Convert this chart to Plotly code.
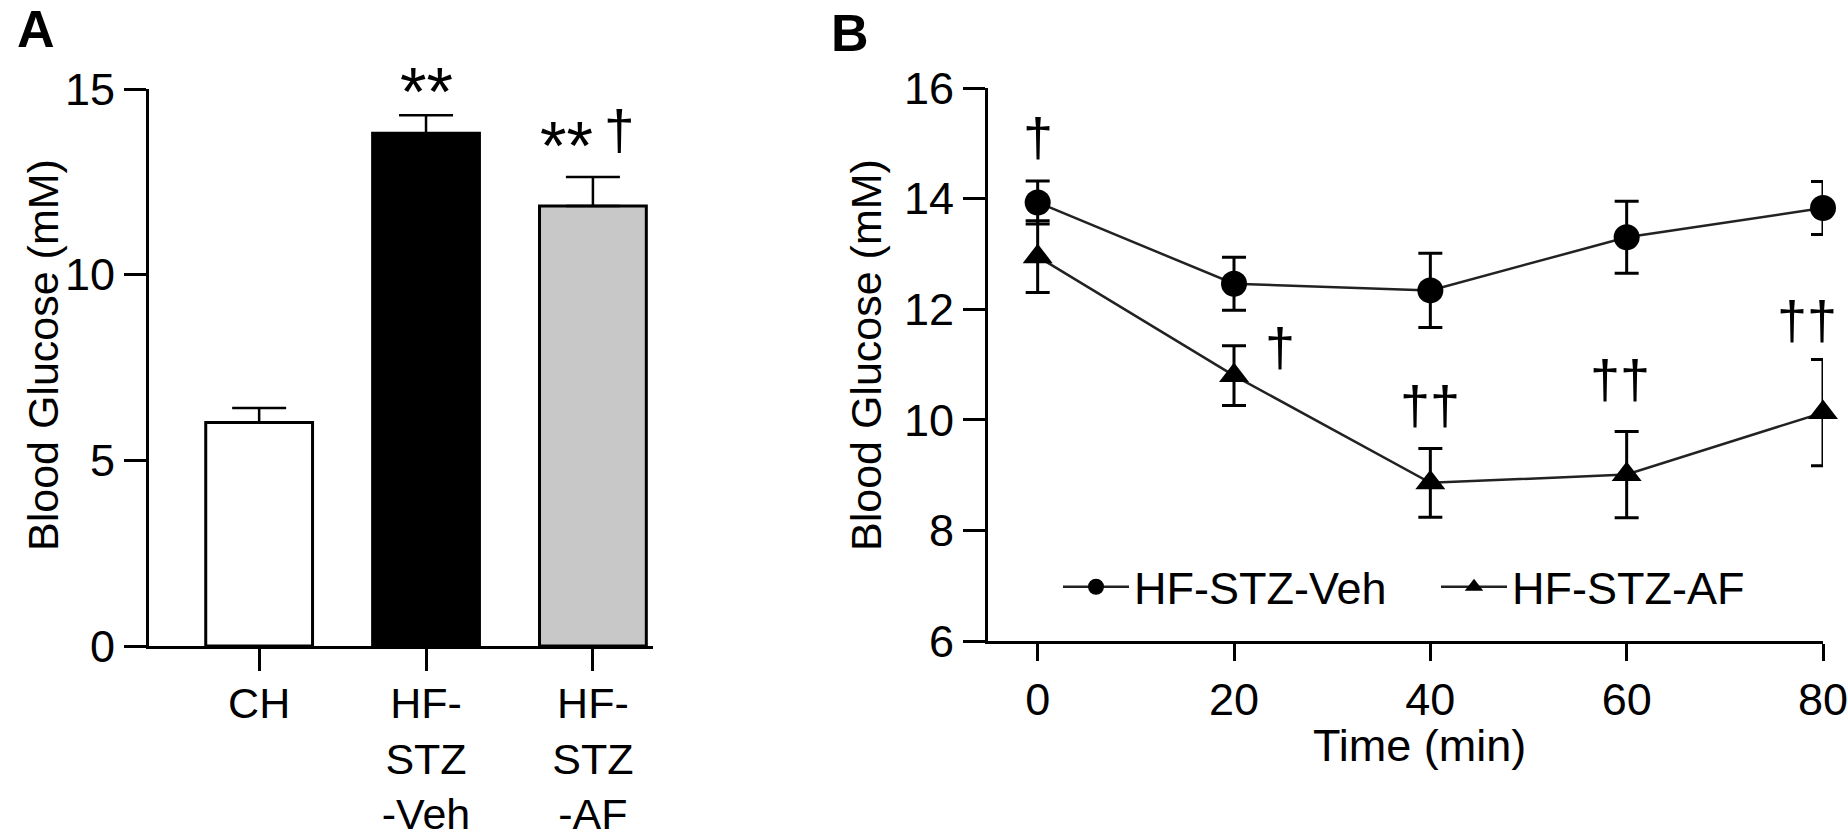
import plotly.graph_objects as go

# --- panel A: bar chart ---
groups = ["CH", "HF-<br>STZ<br>-Veh", "HF-<br>STZ<br>-AF"]
bar_mean = [6.02, 13.81, 11.85]
bar_sem = [0.39, 0.48, 0.78]
bar_colors = ["white", "black", "#c8c8c8"]
star_txt = ["", "**", "**"]
dag_a_txt = ["", "", "†"]

# --- panel B: time course ---
time_min = [0, 20, 40, 60, 80]
veh_mean = [13.93, 12.46, 12.34, 13.30, 13.83]
veh_sem = [0.39, 0.48, 0.67, 0.65, 0.48]
af_mean = [12.95, 10.80, 8.86, 9.01, 10.13]
af_sem = [0.65, 0.54, 0.62, 0.78, 0.96]
dag_x = [0, 24.7, 40, 59.3, 78.4]
dag_y = [15.04, 11.24, 10.2, 10.67, 11.73]
dag_txt = ["†", "†", "††", "††", "††"]

FONT = "Liberation Sans, Arial, sans-serif"
FS = 45

fig = go.Figure()

fig.add_trace(go.Bar(
    x=groups, y=bar_mean,
    marker=dict(color=bar_colors, line=dict(color="black", width=3)),
    width=0.64,
    error_y=dict(type="data", symmetric=False, array=bar_sem,
                 arrayminus=[0] * len(bar_sem),
                 color="black", thickness=2.5, width=27),
    showlegend=False, xaxis="x", yaxis="y",
))

fig.add_trace(go.Scatter(
    x=time_min, y=veh_mean, name="HF-STZ-Veh", mode="lines+markers",
    line=dict(color="#222", width=2.5),
    marker=dict(symbol="circle", size=26, color="black"),
    error_y=dict(type="data", array=veh_sem, color="black", thickness=3, width=12),
    cliponaxis=False, xaxis="x2", yaxis="y2",
))
fig.add_trace(go.Scatter(
    x=time_min, y=af_mean, name="HF-STZ-AF", mode="lines+markers",
    line=dict(color="#222", width=2.5),
    marker=dict(symbol="triangle-up", size=26, color="black"),
    error_y=dict(type="data", array=af_sem, color="black", thickness=3, width=12),
    cliponaxis=False, xaxis="x2", yaxis="y2",
))

axis_common = dict(
    showline=True, linecolor="black", linewidth=3,
    ticks="outside", tickcolor="black", tickwidth=3,
    showgrid=False, zeroline=False, automargin=False,
)
tick_font = dict(family=FONT, size=FS, color="black")

fig.update_layout(
    template="none",
    width=1848, height=832,
    margin=dict(l=0, r=0, t=0, b=0, pad=0),
    plot_bgcolor="white", paper_bgcolor="white",
    font=dict(family=FONT, size=FS, color="black"),
    xaxis=dict(domain=[149 / 1848, 653 / 1848], range=[-0.66, 2.36],
               ticklen=22, anchor="y", ticklabelstandoff=-5,
               tickfont=dict(family=FONT, size=43, color="black"), **axis_common),
    yaxis=dict(domain=[186 / 832, 743 / 832], range=[0, 15],
               tickvals=[0, 5, 10, 15], ticklen=22, anchor="x",
               tickfont=tick_font, **axis_common),
    xaxis2=dict(domain=[988 / 1848, 1823 / 1848], range=[-5.06, 80],
                tickvals=[0, 20, 40, 60, 80], ticklen=17, anchor="y2",
                ticklabeloverflow="allow", tickfont=tick_font, **axis_common),
    yaxis2=dict(domain=[191 / 832, 744 / 832], range=[6, 16],
                tickvals=[6, 8, 10, 12, 14, 16], ticklen=22, anchor="x2",
                tickfont=tick_font, **axis_common),
    legend=dict(orientation="h", x=1058 / 1848, y=(832 - 587) / 832,
                xanchor="left", yanchor="middle",
                font=dict(family=FONT, size=FS), bgcolor="rgba(0,0,0,0)",
                itemwidth=66, entrywidth=297),
    showlegend=True,
)

ann = []
# significance marks, panel A (placed above the error bar caps)
star_shift = [0, 24, 32]
for i, (txt, m, s) in enumerate(zip(star_txt, bar_mean, bar_sem)):
    if txt:
        ann.append(dict(x=i - (0.16 if dag_a_txt[i] else 0), y=m + s,
                        xref="x", yref="y", text=txt, showarrow=False,
                        xanchor="center", yanchor="middle",
                        font=dict(family=FONT, size=68), yshift=star_shift[i]))
for i, (txt, m, s) in enumerate(zip(dag_a_txt, bar_mean, bar_sem)):
    if txt:
        ann.append(dict(x=i + 0.16, y=m + s, xref="x", yref="y", text=txt,
                        showarrow=False, xanchor="center", yanchor="middle",
                        font=dict(family=FONT, size=55), yshift=47))
# significance marks, panel B
for xx, yy, txt in zip(dag_x, dag_y, dag_txt):
    ann.append(dict(x=xx, y=yy, xref="x2", yref="y2", text=txt, showarrow=False,
                    xanchor="center", yanchor="middle", yshift=4,
                    font=dict(family=FONT, size=54)))
# titles and panel letters
lab = dict(xref="paper", yref="paper", showarrow=False,
           xanchor="center", yanchor="middle")
ann += [
    dict(x=43 / 1848, y=(832 - 355) / 832, text="Blood Glucose (mM)",
         textangle=-90, font=dict(family=FONT, size=43), **lab),
    dict(x=866 / 1848, y=(832 - 355) / 832, text="Blood Glucose (mM)",
         textangle=-90, font=dict(family=FONT, size=43), **lab),
    dict(x=1419 / 1848, y=(832 - 745) / 832, text="Time (min)",
         font=dict(family=FONT, size=FS), **lab),
    dict(x=36 / 1848, y=(832 - 29) / 832, text="<b>A</b>",
         font=dict(family=FONT, size=52), **lab),
    dict(x=850 / 1848, y=(832 - 33) / 832, text="<b>B</b>",
         font=dict(family=FONT, size=52), **lab),
]
fig.update_layout(annotations=ann)

fig.write_html(
    "out.html",
    config={"displayModeBar": False},
    post_script="document.body.style.margin='0';document.body.style.overflow='hidden';",
)
